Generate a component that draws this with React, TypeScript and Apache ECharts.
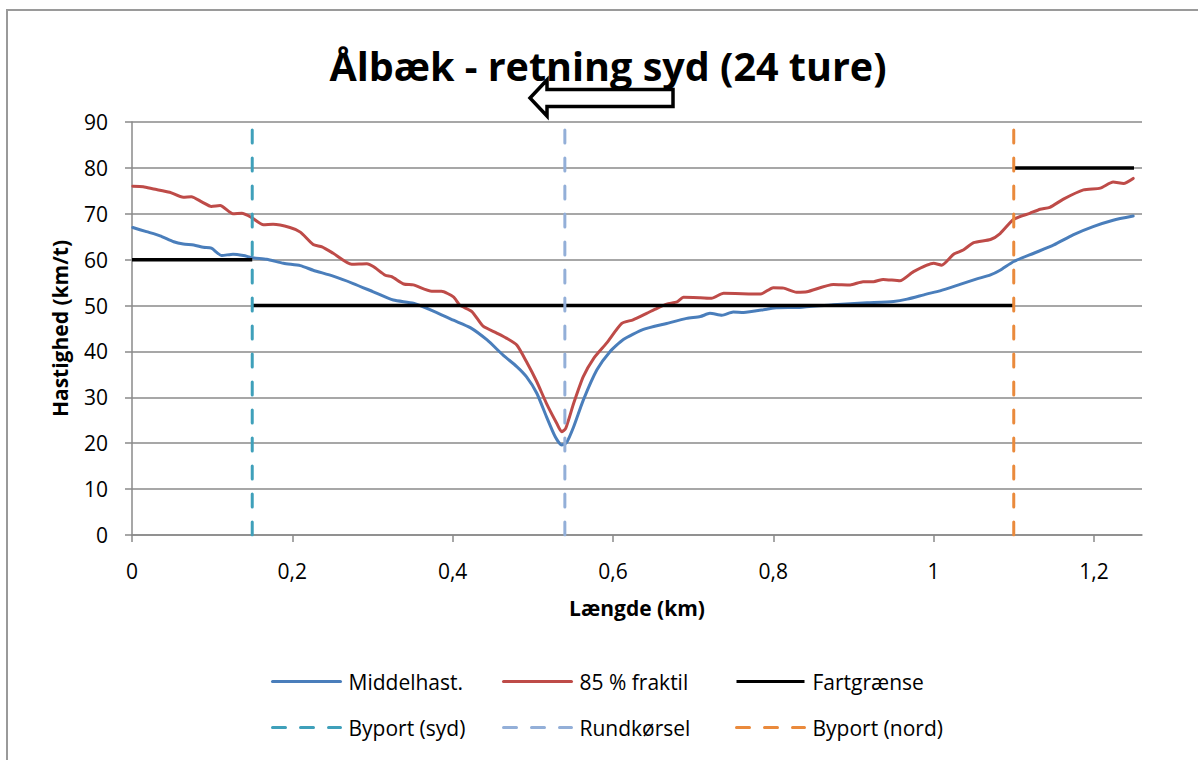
import React, { useEffect, useRef } from "react";
import * as echarts from "echarts";

const xTicks = [0, 0.2, 0.4, 0.6, 0.8, 1, 1.2];

const middelX = [0.001, 0.018, 0.035, 0.052, 0.064, 0.077, 0.089, 0.099, 0.112, 0.126, 0.139, 0.151, 0.168, 0.189, 0.21, 0.226, 0.251, 0.276, 0.301, 0.326, 0.351, 0.376, 0.401, 0.422, 0.443, 0.463, 0.48, 0.492, 0.505, 0.517, 0.528, 0.536, 0.542, 0.551, 0.563, 0.58, 0.596, 0.613, 0.638, 0.667, 0.692, 0.709, 0.721, 0.736, 0.75, 0.763, 0.792, 0.804, 0.833, 0.875, 0.917, 0.95, 0.967, 0.991, 1.008, 1.033, 1.054, 1.071, 1.083, 1.1, 1.125, 1.15, 1.174, 1.199, 1.224, 1.249];
const middelY = [67.0, 66.1, 65.2, 63.9, 63.4, 63.2, 62.7, 62.5, 60.9, 61.2, 60.9, 60.4, 60.1, 59.2, 58.7, 57.7, 56.4, 54.8, 53.0, 51.2, 50.5, 48.8, 46.8, 45.2, 42.5, 39.2, 36.7, 34.5, 30.9, 25.8, 21.4, 19.6, 20.1, 23.6, 29.4, 36.0, 39.9, 42.6, 44.8, 46.1, 47.2, 47.6, 48.3, 47.9, 48.6, 48.5, 49.2, 49.5, 49.6, 50.2, 50.6, 50.9, 51.4, 52.5, 53.2, 54.6, 55.8, 56.7, 57.7, 59.6, 61.4, 63.2, 65.4, 67.2, 68.6, 69.5];

const fraktilX = [0.001, 0.014, 0.027, 0.047, 0.064, 0.074, 0.087, 0.099, 0.11, 0.126, 0.137, 0.149, 0.164, 0.176, 0.197, 0.21, 0.226, 0.237, 0.251, 0.274, 0.293, 0.301, 0.316, 0.324, 0.339, 0.351, 0.374, 0.386, 0.401, 0.409, 0.424, 0.438, 0.455, 0.467, 0.48, 0.492, 0.505, 0.517, 0.53, 0.536, 0.541, 0.551, 0.563, 0.576, 0.592, 0.611, 0.625, 0.642, 0.655, 0.667, 0.68, 0.688, 0.709, 0.723, 0.738, 0.784, 0.8, 0.813, 0.829, 0.842, 0.875, 0.896, 0.912, 0.925, 0.937, 0.958, 0.975, 1.0, 1.01, 1.025, 1.037, 1.05, 1.071, 1.083, 1.1, 1.12, 1.133, 1.145, 1.162, 1.187, 1.208, 1.224, 1.237, 1.249];
const fraktilY = [76.0, 75.9, 75.4, 74.7, 73.6, 73.7, 72.6, 71.6, 71.8, 70.0, 70.1, 69.2, 67.6, 67.7, 67.0, 66.0, 63.3, 62.8, 61.4, 59.0, 59.1, 58.5, 56.6, 56.3, 54.7, 54.5, 53.1, 53.1, 51.9, 50.1, 48.7, 45.5, 44.0, 42.9, 41.4, 37.8, 33.4, 28.7, 24.3, 22.5, 23.2, 28.7, 34.5, 38.5, 41.8, 46.1, 46.9, 48.3, 49.4, 50.3, 50.8, 51.8, 51.7, 51.6, 52.7, 52.5, 53.9, 53.8, 52.9, 53.0, 54.6, 54.5, 55.2, 55.2, 55.7, 55.4, 57.4, 59.2, 58.8, 61.2, 62.1, 63.7, 64.4, 65.7, 68.8, 70.1, 71.0, 71.4, 73.2, 75.2, 75.6, 76.9, 76.6, 77.7];

const limitX = [0, 0.15, 0.15, 0.15, 1.1, 1.1, 1.1, 1.25];
const limitY: (number | string)[] = [60, 60, "-", 50, 50, "-", 80, 80];

const markerNames = ["Byport (syd)", "Rundkørsel", "Byport (nord)"];
const markerX = [0.15, 0.54, 1.1];
const markerRange = [0, 90];

const seriesNames = ["Middelhast.", "85 % fraktil", "Fartgrænse"];

const FONT = '"Open Sans", "Noto Sans", sans-serif';

export default function App() {
  const ref = useRef<HTMLDivElement>(null);
  useEffect(() => {
    if (!ref.current) return;
    const chart = echarts.init(ref.current, undefined, { renderer: "svg" });
    const colors = ["#4A7EBB", "#BE4B48", "#000000"];
    const markerColors = ["#3FA0BA", "#93AFD8", "#EA8A3C"];
    const zip = (xs: number[], ys: (number | string)[]) => xs.map((x, i) => [x, ys[i]]);

    const legendPos = [
      [271, 671],
      [502, 671],
      [735, 671],
      [271, 717],
      [502, 717],
      [735, 717],
    ];
    const allNames = [...seriesNames, ...markerNames];

    chart.setOption({
      animation: false,
      backgroundColor: "#ffffff",
      textStyle: { fontFamily: FONT },
      grid: { left: 132, top: 122, right: 56, bottom: 225, containLabel: false },
      xAxis: {
        type: "value",
        min: 0,
        max: 1.26,
        interval: 0.2,
        name: "Længde (km)",
        nameLocation: "middle",
        nameGap: 62,
        nameTextStyle: { fontSize: 21, fontWeight: "bold", color: "#000", fontFamily: FONT },
        axisLine: { show: true, onZero: false, lineStyle: { color: "#8a8a8a", width: 1.5 } },
        axisTick: { show: true, length: 7, customValues: xTicks, lineStyle: { color: "#8a8a8a", width: 1.5 } },
        axisLabel: {
          customValues: xTicks,
          fontSize: 21,
          color: "#000",
          margin: 25,
          fontFamily: FONT,
          formatter: (v: number) => String(v).replace(".", ","),
        },
        splitLine: { show: false },
      },
      yAxis: {
        type: "value",
        min: 0,
        max: 90,
        interval: 10,
        name: "Hastighed (km/t)",
        nameLocation: "middle",
        nameGap: 62,
        nameTextStyle: { fontSize: 21, fontWeight: "bold", color: "#000", fontFamily: FONT },
        axisLine: { show: true, lineStyle: { color: "#8a8a8a", width: 1.5 } },
        axisTick: { show: true, length: 7, lineStyle: { color: "#8a8a8a", width: 1.5 } },
        axisLabel: { fontSize: 21, color: "#000", margin: 24, fontFamily: FONT },
        splitLine: { show: true, lineStyle: { color: "#8a8a8a", width: 1.5 } },
      },
      legend: allNames.map((n, i) => ({
        data: [n],
        left: legendPos[i][0],
        top: legendPos[i][1],
        padding: 0,
        itemWidth: 68,
        itemHeight: 20,
        itemGap: 0,
        textStyle: { fontSize: 21, color: "#000", fontFamily: FONT, padding: [0, 0, 0, 3] },
        lineStyle: { width: 3 },
        itemStyle: { opacity: 0, borderWidth: 0 },
      })),
      graphic: [
        {
          type: "rect",
          silent: true,
          shape: { x: 7, y: 10, width: 1400, height: 1000 },
          style: { fill: "none", stroke: "#9a9a9a", lineWidth: 2 },
        },
        {
          type: "polygon",
          silent: true,
          shape: {
            points: [
              [530, 98],
              [547, 80],
              [547, 89.5],
              [673, 89.5],
              [673, 106.5],
              [547, 106.5],
              [547, 116],
            ],
          },
          style: { fill: "#fff", stroke: "#000", lineWidth: 3.5 },
        },
        {
          type: "text",
          silent: true,
          x: 608,
          y: 66,
          style: {
            text: "Ålbæk - retning syd (24 ture)",
            fontSize: 39.5,
            fontWeight: "bold",
            fontFamily: FONT,
            fill: "#000",
            align: "center",
            verticalAlign: "middle",
          },
        },
      ],
      series: [
        {
          name: seriesNames[0],
          type: "line",
          symbol: "none",
          data: zip(middelX, middelY),
          lineStyle: { color: colors[0], width: 3, cap: "round", join: "round" },
          itemStyle: { color: colors[0] },
          smooth: 0.2,
        },
        {
          name: seriesNames[1],
          type: "line",
          symbol: "none",
          data: zip(fraktilX, fraktilY),
          lineStyle: { color: colors[1], width: 3, cap: "round", join: "round" },
          itemStyle: { color: colors[1] },
          smooth: 0.2,
        },
        {
          name: seriesNames[2],
          type: "line",
          symbol: "none",
          connectNulls: false,
          data: zip(limitX, limitY),
          lineStyle: { color: colors[2], width: 3.5 },
          itemStyle: { color: colors[2] },
        },
        ...markerNames.map((n, i) => ({
          name: n,
          type: "line",
          symbol: "none",
          data: markerRange.map((y) => [markerX[i], y]),
          lineStyle: { color: markerColors[i], width: 3, type: [13, 15], cap: "round" },
          itemStyle: { color: markerColors[i] },
          z: 5,
        })),
      ],
    });
    return () => chart.dispose();
  }, []);
  return (
    <div
      ref={ref}
      style={{ position: "absolute", left: 0, top: 0, width: 1198, height: 760 }}
    />
  );
}
